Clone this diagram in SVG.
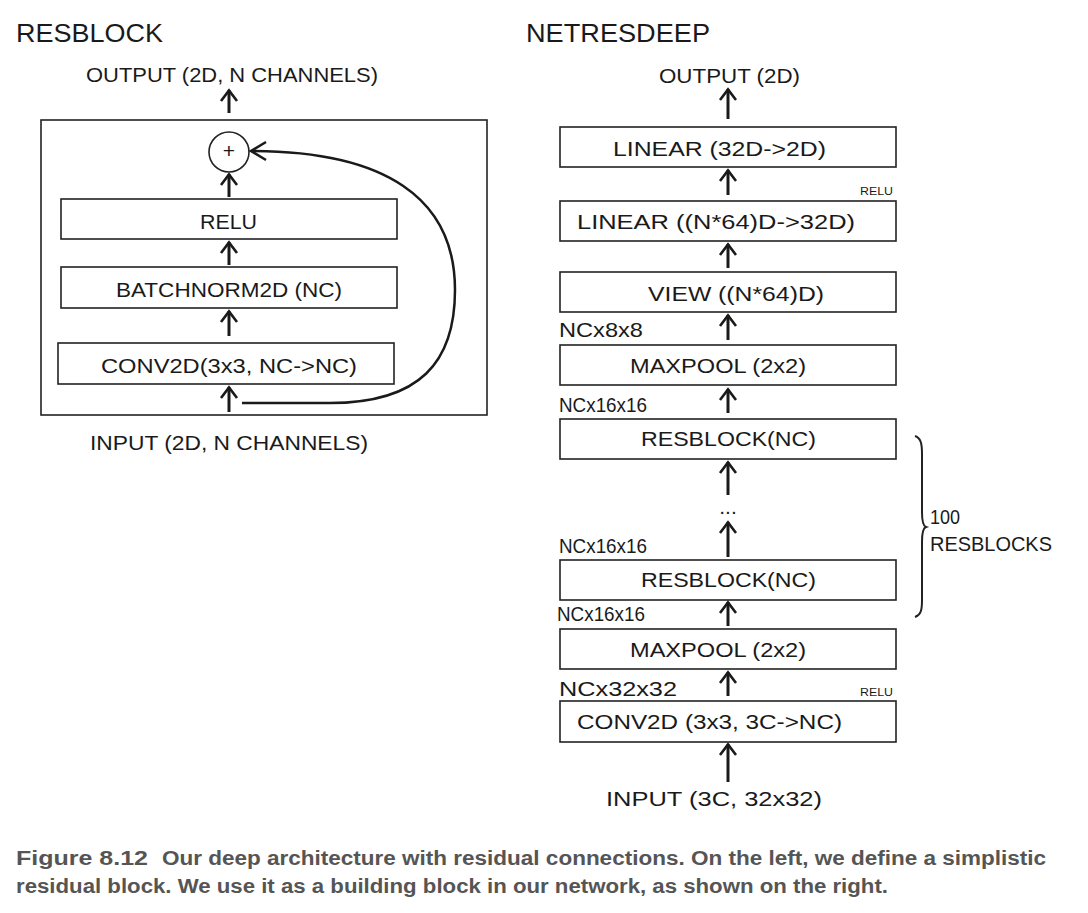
<svg xmlns="http://www.w3.org/2000/svg" width="1088" height="913" viewBox="0 0 1088 913">
<style>
.bg{fill:#ffffff}
.box{fill:#ffffff;stroke:#222;stroke-width:1.6}
.hand{font-family:"Liberation Sans",Arial,sans-serif;font-size:21px;fill:#1a1a1a}
.title{font-family:"Liberation Sans",Arial,sans-serif;font-size:26px;fill:#1a1a1a}
.small{font-family:"Liberation Sans",Arial,sans-serif;font-size:11px;fill:#1a1a1a}
.arr{stroke:#1a1a1a;stroke-width:3;fill:none;marker-end:url(#head)}
.curve{stroke:#1a1a1a;stroke-width:2.5;fill:none}
.cap{font-family:"Liberation Sans",Arial,sans-serif;font-size:20px;font-weight:bold;fill:#555}
</style>
<defs>
<marker id="head" markerUnits="userSpaceOnUse" markerWidth="18" markerHeight="22" viewBox="-15 -11 18 22" refX="0" refY="0" orient="auto">
<path d="M-11,-8 L-0.5,0 L-11,8" fill="none" stroke="#1a1a1a" stroke-width="2.6"/>
</marker>
</defs>
<rect class="bg" x="0" y="0" width="1088" height="913"/>

<!-- Left panel: RESBLOCK -->
<g id="left-title"><text class="title" x="16" y="42" textLength="147" lengthAdjust="spacingAndGlyphs">RESBLOCK</text></g>
<g id="left-output"><text class="hand" x="86" y="82" textLength="292" lengthAdjust="spacingAndGlyphs">OUTPUT (2D, N CHANNELS)</text></g>
<g id="left-frame"><rect x="41" y="120" width="446" height="295" fill="none" stroke="#222" stroke-width="1.6"/></g>
<g id="sum"><circle cx="229" cy="152" r="20" fill="#fff" stroke="#222" stroke-width="1.6"/><text class="hand" x="229" y="158" font-size="16" text-anchor="middle">+</text></g>
<g id="relu"><rect class="box" x="61" y="199" width="336" height="40"/><text class="hand" x="200" y="229" textLength="57" lengthAdjust="spacingAndGlyphs">RELU</text></g>
<g id="batchnorm"><rect class="box" x="61" y="267" width="336" height="41"/><text class="hand" x="116" y="297" textLength="226" lengthAdjust="spacingAndGlyphs">BATCHNORM2D (NC)</text></g>
<g id="conv-left"><rect class="box" x="58" y="343" width="336" height="41"/><text class="hand" x="101" y="373" textLength="256" lengthAdjust="spacingAndGlyphs">CONV2D(3x3, NC-&gt;NC)</text></g>
<g id="left-input"><text class="hand" x="90" y="450" textLength="278" lengthAdjust="spacingAndGlyphs">INPUT (2D, N CHANNELS)</text></g>

<!-- Right panel: NETRESDEEP -->
<g id="right-title"><text class="title" x="526" y="42" textLength="184" lengthAdjust="spacingAndGlyphs">NETRESDEEP</text></g>
<g id="right-output"><text class="hand" x="659" y="83" textLength="141" lengthAdjust="spacingAndGlyphs">OUTPUT (2D)</text></g>
<g id="linear2"><rect class="box" x="560" y="127" width="336" height="40"/><text class="hand" x="613" y="156" textLength="213" lengthAdjust="spacingAndGlyphs">LINEAR (32D-&gt;2D)</text></g>
<g id="relu-label-1"><text class="small" x="860" y="195" textLength="33" lengthAdjust="spacingAndGlyphs">RELU</text></g>
<g id="linear1"><rect class="box" x="560" y="201" width="336" height="40"/><text class="hand" x="577" y="229" textLength="278" lengthAdjust="spacingAndGlyphs">LINEAR ((N*64)D-&gt;32D)</text></g>
<g id="view"><rect class="box" x="560" y="272" width="336" height="40"/><text class="hand" x="648" y="301" textLength="176" lengthAdjust="spacingAndGlyphs">VIEW ((N*64)D)</text></g>
<g id="dim-8x8"><text class="hand" x="559" y="337" textLength="84" lengthAdjust="spacingAndGlyphs">NCx8x8</text></g>
<g id="maxpool2"><rect class="box" x="560" y="345" width="336" height="40"/><text class="hand" x="630" y="373" textLength="176" lengthAdjust="spacingAndGlyphs">MAXPOOL (2x2)</text></g>
<g id="dim-16-a"><text class="hand" x="559" y="412" textLength="88" lengthAdjust="spacingAndGlyphs">NCx16x16</text></g>
<g id="resblock-top"><rect class="box" x="560" y="419" width="336" height="40"/><text class="hand" x="641" y="446" textLength="175" lengthAdjust="spacingAndGlyphs">RESBLOCK(NC)</text></g>
<g id="ellipsis"><text class="hand" x="728" y="514" text-anchor="middle" font-size="16">...</text></g>
<g id="dim-16-b"><text class="hand" x="559" y="553" textLength="88" lengthAdjust="spacingAndGlyphs">NCx16x16</text></g>
<g id="resblock-bottom"><rect class="box" x="560" y="560" width="336" height="40"/><text class="hand" x="641" y="587" textLength="175" lengthAdjust="spacingAndGlyphs">RESBLOCK(NC)</text></g>
<g id="dim-16-c"><text class="hand" x="557" y="621" textLength="88" lengthAdjust="spacingAndGlyphs">NCx16x16</text></g>
<g id="maxpool1"><rect class="box" x="560" y="629" width="336" height="40"/><text class="hand" x="630" y="657" textLength="176" lengthAdjust="spacingAndGlyphs">MAXPOOL (2x2)</text></g>
<g id="dim-32"><text class="hand" x="559" y="696" textLength="118" lengthAdjust="spacingAndGlyphs">NCx32x32</text></g>
<g id="relu-label-2"><text class="small" x="860" y="696" textLength="33" lengthAdjust="spacingAndGlyphs">RELU</text></g>
<g id="conv-right"><rect class="box" x="560" y="701" width="336" height="41"/><text class="hand" x="577" y="729" textLength="265" lengthAdjust="spacingAndGlyphs">CONV2D (3x3, 3C-&gt;NC)</text></g>
<g id="right-input"><text class="hand" x="606" y="806" textLength="216" lengthAdjust="spacingAndGlyphs">INPUT (3C, 32x32)</text></g>
<g id="brace-label">
<path d="M915,436 C921,438 922,444 922,454 L922,512 C922,521 923,526 926,527 C923,528 922,533 922,542 L922,600 C922,610 921,615 915,617" fill="none" stroke="#222" stroke-width="2"/>
<text class="hand" x="930" y="524" textLength="30" lengthAdjust="spacingAndGlyphs">100</text>
<text class="hand" x="930" y="551" textLength="122" lengthAdjust="spacingAndGlyphs">RESBLOCKS</text>
</g>

<!-- Connectors -->
<g id="connectors">
<line class="arr" x1="229" y1="113" x2="229" y2="90"/>
<line class="arr" x1="229" y1="197" x2="229" y2="174"/>
<line class="arr" x1="229" y1="265" x2="229" y2="242"/>
<line class="arr" x1="229" y1="336" x2="229" y2="311"/>
<line class="arr" x1="229" y1="412" x2="229" y2="387"/>
<path class="curve" d="M242,403 L330,403 C420,403 455,362 455,290 C455,198 385,151 251,151"/>
<path d="M266,142 L251,151 L266,160" fill="none" stroke="#1a1a1a" stroke-width="2.5"/>

<line class="arr" x1="728" y1="119" x2="728" y2="89"/>
<line class="arr" x1="728" y1="195" x2="728" y2="170"/>
<line class="arr" x1="728" y1="268" x2="728" y2="244"/>
<line class="arr" x1="728" y1="340" x2="728" y2="315"/>
<line class="arr" x1="728" y1="413" x2="728" y2="389"/>
<line class="arr" x1="728" y1="495" x2="728" y2="462"/>
<line class="arr" x1="728" y1="557" x2="728" y2="522"/>
<line class="arr" x1="728" y1="626" x2="728" y2="602"/>
<line class="arr" x1="728" y1="696" x2="728" y2="672"/>
<line class="arr" x1="728" y1="782" x2="728" y2="744"/>
</g>

<!-- Caption -->
<g id="caption">
<text class="cap" x="16" y="865" textLength="132" lengthAdjust="spacingAndGlyphs">Figure 8.12</text>
<text class="cap" x="162" y="865" textLength="884" lengthAdjust="spacingAndGlyphs">Our deep architecture with residual connections. On the left, we define a simplistic</text>
<text class="cap" x="16" y="893" textLength="872" lengthAdjust="spacingAndGlyphs">residual block. We use it as a building block in our network, as shown on the right.</text>
</g>
</svg>
